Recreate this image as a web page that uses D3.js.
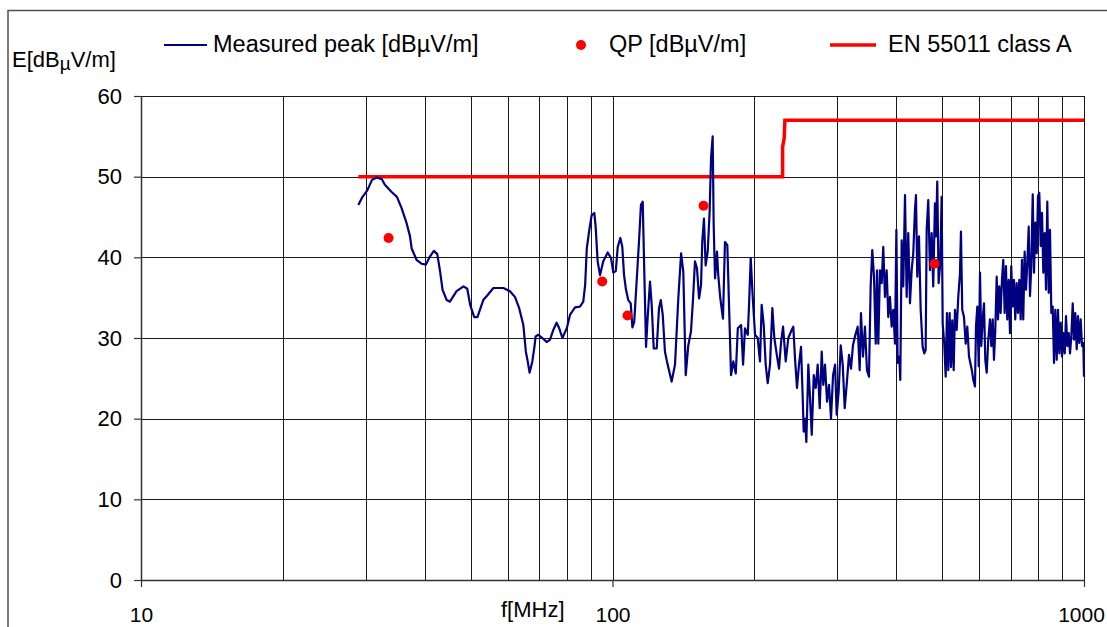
<!DOCTYPE html>
<html>
<head>
<meta charset="utf-8">
<script src="https://cdn.jsdelivr.net/npm/d3@7"></script>
<style>
  body { margin: 0; background: #fff; }
  text { font-family: "Liberation Sans", Arial, sans-serif; fill: #000; }
</style>
</head>
<body>
<div id="chart"></div>
<script>
// Measured peak trace: frequency [MHz] and level [dBµV/m]
var peakFreq = [
  28.9, 29.5, 30.2, 30.9, 31.6, 32.4, 32.9, 34.0, 34.9, 35.7, 36.6, 37.2, 37.5, 38.4, 39.4, 40.2,
  41.0, 41.8, 42.5, 43.1, 43.6, 44.5, 45.2, 46.7, 48.3, 49.2, 49.9, 50.9, 51.7, 53.2, 54.3, 55.9,
  58.7, 60.6, 62.1, 63.4,
  64.7, 65.5, 66.1, 66.7, 67.6, 68.3, 68.7, 69.6, 71.0, 72.5, 73.7, 74.9, 76.1, 77.1, 78.3, 80.0,
  81.3, 83.3, 85.3, 86.7, 87.5, 88.2, 89.2, 90.3, 91.5, 92.1, 93.0, 94.1, 95.6, 97.7, 99.3, 100.4,
  101.6, 102.6, 103.9, 104.9, 105.8, 106.8, 108.0, 109.3, 110.2, 111.2, 112.5, 113.8, 114.9, 115.9,
  116.8, 117.8, 118.7, 120.1, 121.1, 122.3, 124.1, 125.5, 126.6, 127.8, 129.2, 130.9, 133.5, 135.7,
  137.9, 139.8, 141.3, 143.0,
  144.8, 146.7, 148.2, 149.6, 151.1, 152.6, 154.1, 155.0, 156.3, 157.6, 159.2, 160.7, 161.8, 163.1,
  163.9, 165.0, 166.6, 167.6, 169.3, 171.5, 173.2, 175.2, 176.9, 178.4, 180.4, 182.6, 184.4, 187.4,
  189.2, 191.0, 193.6, 194.8, 196.4, 198.4, 200.6, 203.2, 205.5, 207.2, 209.3, 211.3, 213.4, 215.8,
  218.3, 220.4, 223.1, 225.5, 227.8, 230.0, 233.0, 236.0, 239.1, 241.8, 243.8, 246.2, 248.6, 251.1,
  253.2, 254.4, 256.0, 257.7, 260.2, 262.4, 264.6, 267.2, 269.8, 272.4, 275.1, 277.8, 279.9, 282.3,
  285.1, 287.9, 290.7, 293.6, 296.5, 298.9, 301.8, 304.8, 307.8, 310.8, 313.8, 317.4, 320.5, 323.6,
  326.8, 331.1, 334.4, 336.5, 339.8, 343.1, 346.5, 349.9, 352.8, 355.6, 358.6, 361.6, 363.9, 366.2,
  369.2, 372.3, 375.2, 378.3, 381.5, 384.5, 387.7, 390.9, 394.0, 397.3, 400.0, 402.5, 405.7, 407.7,
  410.5, 413.7, 417.2, 420.6, 423.9, 427.5, 431.0, 434.4, 438.0, 440.2, 443.0, 446.7, 450.4, 454.8,
  458.3, 461.5, 463.8, 467.4, 471.3, 475.2, 478.9, 482.9, 485.3, 488.4, 491.7, 495.6, 499.0, 501.5,
  505.4, 508.9, 512.1, 515.4, 518.9, 522.2, 525.5, 529.2, 532.5, 537.0, 541.2, 545.7, 548.3, 551.8,
  556.5, 561.2, 565.6, 570.3,
  577.9, 582.4, 587.2, 590.1, 593.9, 598.0, 601.8, 605.6, 609.7, 613.6, 617.5, 621.8, 626.6, 631.9,
  635.9, 640.3, 644.3, 648.4, 652.9, 657.1, 661.2, 665.6, 669.9, 674.2, 678.8, 683.1, 687.5, 692.2,
  696.6, 701.0, 705.8, 710.4, 714.8, 719.7, 724.4, 729.0, 734.0, 738.6, 743.3, 748.4, 753.4, 758.2,
  763.4, 768.2, 773.1, 778.5, 783.4, 788.4, 793.8, 798.8, 803.9, 809.4, 814.6, 819.8, 825.4, 830.6,
  835.9, 841.7, 847.0, 852.5, 858.3, 863.8, 869.3, 875.3, 880.8, 886.5, 892.5, 898.2, 903.9, 910.2,
  915.9, 921.8, 928.2, 934.0, 940.0, 946.4, 952.4, 958.4, 965.0, 971.1, 977.3, 984.0, 990.3, 996.6,
  1000
];
var peakLevel = [
  46.5, 47.5, 48.3, 49.6, 49.9, 49.7, 49.0, 48.1, 47.5, 46.1, 44.2, 42.6, 41.1, 39.7, 39.2, 39.1,
  40.1, 40.8, 40.4, 38.2, 36.0, 34.7, 34.5, 35.8, 36.4, 36.1, 34.1, 32.6, 32.6, 34.7, 35.3, 36.2,
  36.2, 35.8, 35.1, 33.7,
  31.6, 28.3, 27.1, 25.7, 27.1, 28.9, 30.2, 30.4, 30.0, 29.5, 29.8, 31.0, 31.9, 31.2, 30.0, 31.2,
  32.9, 33.8, 33.9, 34.5, 36.6, 41.1, 43.2, 45.2, 45.5, 43.8, 39.5, 37.8, 39.5, 40.6, 39.9, 38.1,
  38.3, 41.3, 42.4, 41.3, 37.8, 36.0, 34.7, 34.3, 31.3, 32.0, 37.0, 41.9, 46.5, 46.9,
  38.2, 28.9, 32.4, 37.0, 34.1, 28.7, 28.7, 33.7, 34.7, 32.9, 28.3, 26.7, 24.6, 26.7,
  34.9, 40.5, 38.2, 25.4,
  29.1, 30.8, 34.9, 39.5, 38.6, 34.9, 36.6, 41.9, 44.8, 39.0, 40.7, 45.7, 52.3, 55.0,
  44.0, 37.4, 40.7, 37.8, 34.9, 32.4, 41.9, 41.5, 32.9, 25.4, 27.1, 25.6, 31.2, 31.6,
  26.7, 31.2, 30.4, 34.1, 39.9, 34.9, 30.4, 30.0, 27.1, 34.1, 31.6, 26.7, 24.4, 26.7,
  33.7, 30.0, 27.9, 26.2, 29.5, 31.4, 27.1, 30.0, 30.8, 31.4, 27.5, 23.8, 26.7, 28.9,
  22.5, 18.4, 20.0, 17.1, 26.7, 22.5, 18.0, 25.4, 23.8, 26.7, 21.3, 28.3, 24.2, 26.7,
  22.1, 24.2, 20.0, 25.4, 26.7, 20.5, 23.4, 29.1, 26.7, 21.3, 24.2, 27.9, 26.2, 29.1,
  30.2, 31.4, 26.0, 33.1, 27.7, 31.4, 26.0, 25.2, 36.4, 40.9, 37.6, 29.3, 38.4, 29.3,
  38.4, 36.8, 41.3, 35.1, 38.4, 32.6, 35.1, 31.4, 33.5, 29.3, 43.4, 26.9, 27.7, 24.8,
  42.1, 36.4, 47.7, 35.1, 43.0, 34.3, 38.4, 40.5, 45.9, 47.7, 37.6, 42.6, 33.5, 28.9,
  28.1, 28.5, 43.4, 47.1, 38.4, 43.0, 36.4, 46.7, 42.6, 49.4, 36.8, 39.3, 47.5, 31.8,
  29.3, 25.2, 33.1, 26.0, 33.1, 26.4, 32.2, 26.0, 33.5, 31.0, 35.1, 38.0, 43.2, 33.5,
  32.6, 29.3, 31.4, 27.7,
  26.1, 24.8, 24.0, 31.4, 33.9, 26.5, 38.1, 29.0, 32.3, 34.3, 27.3, 25.7, 29.8, 32.3,
  29.0, 32.3, 27.3, 31.0, 37.6, 32.3, 36.4, 33.1, 37.2, 39.7, 33.1, 38.9, 32.3, 37.2,
  30.6, 38.9, 33.9, 37.2, 32.3, 36.8, 33.1, 37.2, 32.3, 39.7, 32.3, 40.7, 36.0, 39.3,
  43.8, 35.2, 38.9, 47.8, 38.1, 44.3, 40.5, 47.6, 48.0, 41.4, 45.5, 38.1, 43.0, 36.0,
  46.9, 35.6, 43.4, 33.1, 33.9, 26.9, 33.5, 27.3, 33.5, 28.1, 31.9, 27.7, 30.6, 28.1,
  32.7, 29.0, 30.6, 28.1, 30.2, 34.3, 29.8, 33.1, 28.6, 32.7, 29.4, 32.3, 29.0, 29.4,
  25.2
];

// Quasi-peak measurements
var qpFreq = [33.5, 95.1, 107.6, 156.0, 481.8];
var qpLevel = [42.4, 37.0, 32.8, 46.4, 39.2];

// EN 55011 class A limit
var limitFreq = [28.9, 229.5, 229.5, 231.3, 232.1, 1000];
var limitLevel = [50, 50, 53.7, 54.8, 57, 57];

// Axis ticks
var xTickLabels = [10, 100, 1000];
var yTicks = [0, 10, 20, 30, 40, 50, 60];

var svgWidth = 1107;
var svgHeight = 627;

var margin = {
  top: 96,
  right: 23,
  bottom: 47,
  left: 141
};

var width = svgWidth - margin.left - margin.right;
var height = svgHeight - margin.top - margin.bottom;

var svg = d3.select("#chart")
  .append("svg")
  .attr("width", svgWidth)
  .attr("height", svgHeight);

// outer chart frame (runs off the bottom/right of the picture)
svg.append("rect")
  .attr("x", 8)
  .attr("y", 10.5)
  .attr("width", 1200)
  .attr("height", 700)
  .attr("fill", "none")
  .attr("stroke", "#505050")
  .attr("stroke-width", 1.5);

var chartGroup = svg.append("g")
  .attr("transform", `translate(${margin.left}, ${margin.top})`);

var xLogScale = d3.scaleLog()
  .domain([10, 1000])
  .range([0, width]);

var yLinearScale = d3.scaleLinear()
  .domain([0, 60])
  .range([height, 0]);

// vertical grid lines at every 1-2-3..9 x decade
chartGroup.append("g")
  .selectAll("line")
  .data(xLogScale.ticks())
  .enter().append("line")
  .attr("x1", d => Math.round(xLogScale(d)) + 0.5)
  .attr("x2", d => Math.round(xLogScale(d)) + 0.5)
  .attr("y1", 0)
  .attr("y2", height)
  .attr("stroke", "#1a1a1a")
  .attr("stroke-width", 1);

// horizontal grid lines
chartGroup.append("g")
  .selectAll("line")
  .data(yTicks)
  .enter().append("line")
  .attr("x1", 0)
  .attr("x2", width)
  .attr("y1", d => Math.round(yLinearScale(d)) + 0.5)
  .attr("y2", d => Math.round(yLinearScale(d)) + 0.5)
  .attr("stroke", "#1a1a1a")
  .attr("stroke-width", 1);

// axes
var bottomAxis = d3.axisBottom(xLogScale)
  .tickValues(xTickLabels)
  .tickFormat(d3.format("d"))
  .tickSizeInner(7)
  .tickSizeOuter(0)
  .tickPadding(20);

var leftAxis = d3.axisLeft(yLinearScale)
  .tickValues(yTicks)
  .tickSizeInner(7)
  .tickSizeOuter(0)
  .tickPadding(12);

var xAxis = chartGroup.append("g")
  .attr("transform", `translate(0, ${height})`)
  .call(bottomAxis);

var yAxis = chartGroup.append("g")
  .call(leftAxis);

[xAxis, yAxis].forEach(function(ax) {
  ax.select(".domain").attr("stroke", "#333").attr("stroke-width", 1.5);
  ax.selectAll(".tick line").attr("stroke", "#333").attr("stroke-width", 1.2);
  ax.selectAll(".tick text")
    .style("font-family", '"Liberation Sans", Arial, sans-serif')
    .style("font-size", "22px")
    .attr("fill", "#000");
});

// x labels a touch smaller, and keep "1000" inside the right edge
xAxis.selectAll(".tick text")
  .style("font-size", "21px")
  .attr("dx", d => d === 1000 ? -3 : 0);

// limit line
var lineGen = d3.line()
  .x(d => xLogScale(d[0]))
  .y(d => yLinearScale(d[1]));

chartGroup.append("path")
  .datum(limitFreq.map((f, i) => [f, limitLevel[i]]))
  .attr("d", lineGen)
  .attr("fill", "none")
  .attr("stroke", "#ff0000")
  .attr("stroke-width", 3.5);

// measured peak trace
chartGroup.append("path")
  .datum(peakFreq.map((f, i) => [f, peakLevel[i]]))
  .attr("d", lineGen)
  .attr("fill", "none")
  .attr("stroke", "#000080")
  .attr("stroke-width", 2.2)
  .attr("stroke-linejoin", "round");

// QP points
chartGroup.append("g")
  .selectAll("circle")
  .data(qpFreq)
  .enter().append("circle")
  .attr("cx", d => xLogScale(d))
  .attr("cy", (d, i) => yLinearScale(qpLevel[i]))
  .attr("r", 5)
  .attr("fill", "#ff0000");

// axis titles
var yTitle = svg.append("text")
  .attr("x", 12)
  .attr("y", 67)
  .style("font-size", "22px")
  .text("E[dB");
yTitle.append("tspan")
  .attr("dy", 3)
  .style("font-size", "19px")
  .text("µ");
yTitle.append("tspan")
  .attr("dy", -3)
  .text("V/m]");

svg.append("text")
  .attr("x", 501)
  .attr("y", 617)
  .style("font-size", "22px")
  .text("f[MHz]");

// legend
var legend = svg.append("g").style("font-size", "23.5px");

legend.append("line")
  .attr("x1", 164).attr("x2", 207)
  .attr("y1", 45).attr("y2", 45)
  .attr("stroke", "#000080")
  .attr("stroke-width", 2);
legend.append("text")
  .attr("x", 213).attr("y", 52)
  .text("Measured peak [dBµV/m]");

legend.append("circle")
  .attr("cx", 581).attr("cy", 45)
  .attr("r", 5)
  .attr("fill", "#ff0000");
legend.append("text")
  .attr("x", 609).attr("y", 52)
  .text("QP [dBµV/m]");

legend.append("line")
  .attr("x1", 830).attr("x2", 876)
  .attr("y1", 45).attr("y2", 45)
  .attr("stroke", "#ff0000")
  .attr("stroke-width", 3.5);
legend.append("text")
  .attr("x", 888).attr("y", 52)
  .text("EN 55011 class A");
</script>
</body>
</html>
